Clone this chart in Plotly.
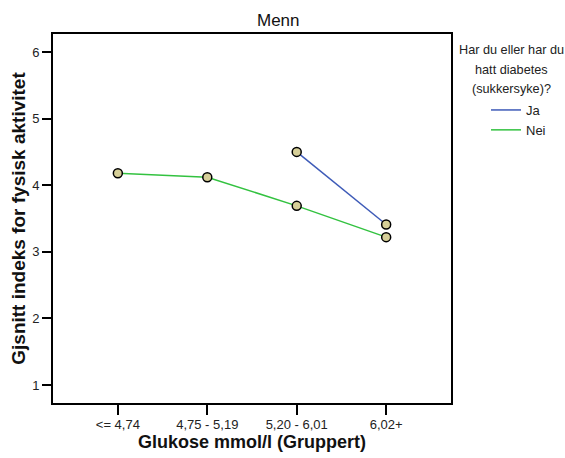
import plotly.graph_objects as go

categories = ["<= 4,74", "4,75 - 5,19", "5,20 - 6,01", "6,02+"]
ja_values = [None, None, 4.50, 3.41]
nei_values = [4.18, 4.12, 3.69, 3.22]
y_ticks = [1, 2, 3, 4, 5, 6]
legend_title_lines = ["Har du eller har du", "hatt diabetes", "(sukkersyke)?"]

BLUE = "#3E5BB8"
GREEN = "#33C240"
MARKER_FILL = "#D6CF98"
FONT = "Liberation Sans, Arial, sans-serif"

W, H = 565, 458
L, R, T, B = 53, 451, 34, 403
PW, PH = R - L, B - T


def px_to_paper_x(xr):
    return (xr - L) / PW


def px_to_paper_y(yr):
    return (B - yr) / PH


x_idx = list(range(len(categories)))

fig = go.Figure()

ja_x = [i for i, v in zip(x_idx, ja_values) if v is not None]
ja_y = [v for v in ja_values if v is not None]

for xs, ys, col, name in [(ja_x, ja_y, BLUE, "Ja"), (x_idx, nei_values, GREEN, "Nei")]:
    fig.add_trace(go.Scatter(
        x=xs, y=ys, mode="lines+markers", name=name, showlegend=False,
        line=dict(color=col, width=1.5),
        marker=dict(size=9, color=MARKER_FILL, line=dict(color="black", width=1.5)),
    ))
    fig.add_trace(go.Scatter(
        x=[None], y=[None], mode="lines", name=name, showlegend=True,
        line=dict(color=col, width=1.5),
    ))

fig.update_layout(
    width=W, height=H,
    margin=dict(l=L, r=W - R, t=T, b=H - B, autoexpand=False),
    paper_bgcolor="white", plot_bgcolor="white",
    font=dict(family=FONT, size=13, color="#222222"),
    showlegend=True,
    legend=dict(
        x=1.0, xanchor="left", xref="paper",
        y=px_to_paper_y(95), yanchor="top",
        font=dict(size=13, family=FONT, color="#222222"),
        itemwidth=30, tracegroupgap=0, bgcolor="rgba(0,0,0,0)",
        borderwidth=0, indentation=35,
    ),
    xaxis=dict(
        range=[-0.725, 3.725], tickmode="array", tickvals=x_idx, ticktext=categories,
        showgrid=False, zeroline=False, showline=True, mirror=True,
        linecolor="black", linewidth=2, ticks="outside", ticklen=10, tickwidth=2,
        tickcolor="black", tickfont=dict(size=13, color="#222222"), ticklabelstandoff=-2,
        title=dict(text="<b>Glukose mmol/l (Gruppert)</b>", font=dict(size=18, color="#111111"), standoff=3),
    ),
    yaxis=dict(
        range=[0.73, 6.27], tickmode="array", tickvals=y_ticks,
        showgrid=False, zeroline=False, showline=True, mirror=True,
        linecolor="black", linewidth=2, ticks="outside", ticklen=9, tickwidth=2,
        tickcolor="black", tickfont=dict(size=13, color="#222222"),
        title=dict(text="<b>Gjsnitt indeks for fysisk aktivitet</b>", font=dict(size=19, color="#111111"), standoff=2),
    ),
)

fig.add_annotation(text="Menn", x=px_to_paper_x(278), xref="paper", xanchor="center",
                   y=px_to_paper_y(20), yref="paper", yanchor="middle", showarrow=False,
                   font=dict(size=17, color="#111111"))

for txt, yp in zip(legend_title_lines, [50, 70, 89]):
    fig.add_annotation(text=txt, x=px_to_paper_x(511), xref="paper", xanchor="center",
                       y=px_to_paper_y(yp), yref="paper", yanchor="middle", showarrow=False,
                       font=dict(size=12.7, color="#222222"))

fig.write_html(
    "out.html",
    config={"displayModeBar": False},
    post_script="document.body.style.margin='0';document.body.style.overflow='hidden';",
)
